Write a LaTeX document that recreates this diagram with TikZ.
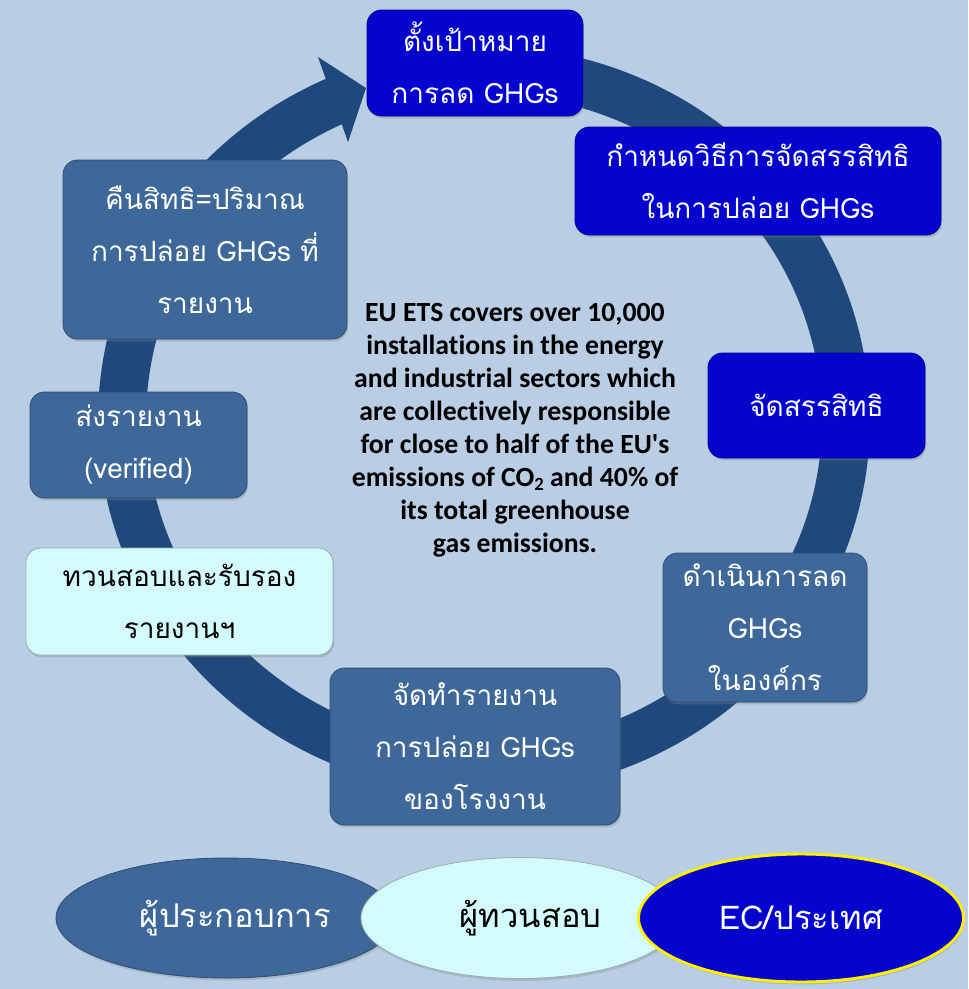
\documentclass[tikz,border=0pt]{standalone}
\usepackage{fontspec}
\newfontfamily\thaifont[Script=Thai]{Loma}
\newfontfamily\calfont[Ligatures=CommonOff]{Carlito}
\usetikzlibrary{shapes.geometric,shadows}
\definecolor{bgc}{RGB}{185,205,228}
\definecolor{ringc}{RGB}{31,73,125}
\definecolor{bluebox}{RGB}{4,4,206}
\definecolor{steel}{RGB}{61,104,153}
\definecolor{cyanbox}{RGB}{212,251,251}
\definecolor{yell}{RGB}{250,240,0}
\begin{document}
\begin{tikzpicture}[x=0.75pt,y=-0.75pt,
  box/.style={rounded corners=11pt, inner sep=0pt, align=center, text=white,
    font=\thaifont\fontsize{21}{39}\selectfont,
    drop shadow={shadow xshift=0.8pt,shadow yshift=-1.8pt,opacity=0.35}},
  bluebx/.style={box, fill=bluebox, draw=bluebox!70!black, line width=0.6pt},
  steelbx/.style={box, fill=steel, draw=steel!75!black, line width=0.6pt},
  cyanbx/.style={box, fill=cyanbox, draw=cyanbox!70!black, text=black, line width=0.6pt},
  ell/.style={ellipse, inner sep=0pt, font=\thaifont\fontsize{24.5}{28}\selectfont,
    drop shadow={shadow xshift=0.8pt,shadow yshift=-1.8pt,opacity=0.3}},
  ringline/.style={draw=ringc, line width=36pt, line join=round},
  info/.style={align=center, font=\calfont\bfseries\fontsize{20.8}{24.75}\selectfont, text=black}]
\fill[bgc] (0,0) rectangle (968,989);
\useasboundingbox (0,0) rectangle (968,989);
% ring with arrow
\draw[ringline] plot[domain=-246.5:80, samples=240] ({484+362*cos(\x)},{420-350*sin(\x)});
\fill[ringc] (318,57) -- (366,88) -- (348,142) -- cycle;
% boxes
\node[bluebx, minimum width=162pt, minimum height=79.5pt] (b1) at (475,63) {ตั้งเป้าหมาย\\การลด GHGs};
\node[bluebx, minimum width=274.5pt, minimum height=81pt] (b2) at (758,181) {กำหนดวิธีการจัดสรรสิทธิ\\ในการปล่อย GHGs};
\node[bluebx, minimum width=162.75pt, minimum height=78.75pt] (b3) at (816.5,405.5) {จัดสรรสิทธิ};
\node[steelbx, minimum width=153pt, minimum height=111.75pt] (b4) at (765,627.5) {ดำเนินการลด\\GHGs\\ในองค์กร};
\node[steelbx, minimum width=217.5pt, minimum height=117.75pt] (b5) at (475,746.5) {จัดทำรายงาน\\การปล่อย GHGs\\ของโรงงาน};
\node[cyanbx, minimum width=230.25pt, minimum height=80.25pt] (b6) at (179.5,601.5) {ทวนสอบและรับรอง\\รายงานฯ};
\node[steelbx, minimum width=162.75pt, minimum height=79.5pt] (b7) at (138.5,445) {ส่งรายงาน\\(verified)};
\node[steelbx, minimum width=213pt, minimum height=134.25pt] (b8) at (205,249.5) {คืนสิทธิ=ปริมาณ\\การปล่อย GHGs ที่\\รายงาน};
% central text
\node[info] (txt) at (515,430) {EU ETS covers over 10,000\\installations in the energy\\and industrial sectors which\\are collectively responsible\\for close to half of the EU's\\emissions of CO\raisebox{-0.35ex}{\fontsize{14}{14}\selectfont 2} and 40\% of\\its total greenhouse\\gas emissions.};
% bottom ellipses
\node[ell, fill=steel, draw=steel!75!black, line width=0.6pt, text=white, minimum width=255pt, minimum height=90pt] (e1) at (226,918) {\hspace*{14pt}ผู้ประกอบการ};
\node[ell, fill=cyanbox, draw=cyanbox!70!black, line width=0.6pt, text=black, minimum width=238.5pt, minimum height=90.75pt] (e2) at (520,918) {\hspace*{16pt}ผู้ทวนสอบ};
\node[ell, fill=bluebox, draw=yell, line width=2.2pt, text=white, minimum width=243.75pt, minimum height=96pt] (e3) at (801,918) {EC/ประเทศ};
\end{tikzpicture}
\end{document}
